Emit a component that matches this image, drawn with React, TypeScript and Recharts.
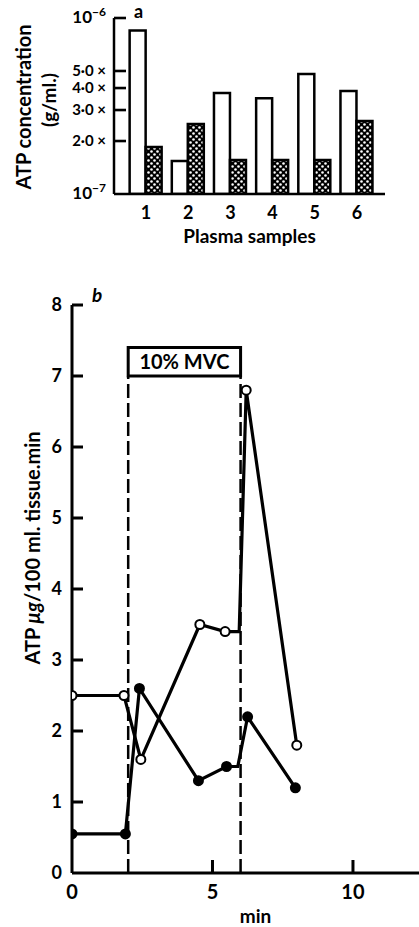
import React from "react";
import {
	BarChart,
	Bar,
	XAxis,
	YAxis,
	LineChart,
	Line,
	ReferenceLine,
	ReferenceArea,
	Label,
} from "recharts";

// panel a: ATP in plasma samples (log scale)
const sampleLabels = ["1", "2", "3", "4", "5", "6"];
const plainValues = [8.5e-7, 1.54e-7, 3.75e-7, 3.5e-7, 4.8e-7, 3.85e-7];
const dottedValues = [1.85e-7, 2.5e-7, 1.56e-7, 1.56e-7, 1.56e-7, 2.6e-7];
const logTicks = [1e-7, 2e-7, 3e-7, 4e-7, 5e-7, 1e-6];

// panel b: ATP release vs time
const openX = [0, 1.85, 2.45, 4.55, 5.45, 5.95, 6.2, 8.0];
const openY = [2.5, 2.5, 1.6, 3.5, 3.4, 3.4, 6.8, 1.8];
const openMarked = [true, true, true, true, true, false, true, true];
const filledX = [0, 1.9, 2.4, 4.5, 5.5, 5.9, 6.25, 7.95];
const filledY = [0.55, 0.55, 2.6, 1.3, 1.5, 1.5, 2.2, 1.2];
const filledMarked = [true, true, true, true, true, false, true, true];
const minTicks = [0, 5, 10];
const rateTicks = [0, 1, 2, 3, 4, 5, 6, 7, 8];
const exercise = { start: 2, end: 6, boxBottom: 7, boxTop: 7.4, label: "10% MVC" };

const barData = sampleLabels.map((name, i) => ({
	name,
	plain: plainValues[i],
	dotted: dottedValues[i],
}));
const openData = openX.map((x, i) => ({ x, y: openY[i], marked: openMarked[i] }));
const filledData = filledX.map((x, i) => ({ x, y: filledY[i], marked: filledMarked[i] }));

const FONT = "Lato, 'DejaVu Sans', sans-serif";
const MIN_MAX = 12.35;
const RATE_MAX = 8;

// tick label plus an inward tick mark, both hung off the axis' own tick position
const LogTick = (props: any) => {
	const { payload } = props;
	const x = Number(props.x);
	const y = Number(props.y);
	const v = payload.value;
	const exp = v >= 1e-6 ? "−6" : v <= 1e-7 ? "−7" : null;
	const mant = Math.round(v / 1e-7);
	return (
		<g>
			{v > 1e-7 ? <rect x={x + 8} y={y - 1.3} width={12} height={2.6} fill="#000" /> : null}
			<text x={x} y={y} dy={5} textAnchor="end" fontFamily={FONT} fontWeight={700} fontSize={15} fill="#000">
				{exp ? (
					<>
						<tspan fontSize={17}>10</tspan>
						<tspan dy={-7} fontSize={12}>{exp}</tspan>
					</>
				) : (
					`${mant}·0 ×`
				)}
			</text>
		</g>
	);
};

const RateTick = (props: any) => {
	const { payload } = props;
	const x = Number(props.x);
	const y = Number(props.y);
	return (
		<g>
			{payload.value > 0 ? <rect x={x + 10} y={y - 1.5} width={11} height={3} fill="#000" /> : null}
			<text x={x} y={y} dy={6} textAnchor="end" fontFamily={FONT} fontWeight={700} fontSize={18} fill="#000">
				{payload.value}
			</text>
		</g>
	);
};

const MinTick = (props: any) => {
	const { payload } = props;
	const x = Number(props.x);
	const y = Number(props.y);
	return (
		<g>
			{payload.value > 0 ? <rect x={x - 1.5} y={y - 25} width={3} height={13} fill="#000" /> : null}
			<text x={x} y={y} dy={14} textAnchor="middle" fontFamily={FONT} fontWeight={700} fontSize={20} fill="#000">
				{payload.value}
			</text>
		</g>
	);
};

const makeDot = (filled: boolean) => (props: any) => {
	const { cx, cy, payload, index } = props;
	if (!payload.marked) return <g key={`d${index}`} />;
	return (
		<circle
			key={`d${index}`}
			cx={cx}
			cy={cy}
			r={4.5}
			fill={filled ? "#000" : "#fff"}
			stroke="#000"
			strokeWidth={2}
		/>
	);
};

const txt = { fontFamily: FONT, fontWeight: 700, fill: "#000" } as const;
const blackLine = { stroke: "#000", strokeWidth: 3 };

export default function App() {
	return (
		<div style={{ position: "absolute", left: 0, top: 0, width: 419, height: 927, background: "#fff" }}>
			<div style={{ position: "absolute", left: 0, top: 0 }}>
				<BarChart
					width={419}
					height={250}
					data={barData}
					margin={{ top: 18, right: 34, left: 0, bottom: 0 }}
					barCategoryGap="11%"
					barGap={0}
				>
					<defs>
						<pattern id="dots" width={6} height={6} patternUnits="userSpaceOnUse">
							<rect width={6} height={6} fill="#000" />
							<circle cx={1.5} cy={1.5} r={1.3} fill="#fff" />
							<circle cx={4.5} cy={4.5} r={1.3} fill="#fff" />
						</pattern>
					</defs>
					<XAxis
						dataKey="name"
						padding={{ left: 11, right: 7 }}
						height={56}
						tickLine={false}
						tickSize={6}
						tickMargin={6}
						interval={0}
						axisLine={{ stroke: "#000", strokeWidth: 2.5 }}
						tick={{ ...txt, fontSize: 18 }}
					>
						<Label value="Plasma samples" position="insideBottom" offset={7} style={{ ...txt, fontSize: 19 }} />
					</XAxis>
					<YAxis
						type="number"
						scale="log"
						domain={[1e-7, 1e-6]}
						allowDataOverflow
						ticks={logTicks}
						interval={0}
						width={114}
						tickLine={false}
						tickSize={0}
						tickMargin={8}
						axisLine={{ stroke: "#000", strokeWidth: 2.5 }}
						tick={<LogTick />}
					>
						<Label
							content={() => (
								<g>
									<text transform="translate(23,107) rotate(-90)" textAnchor="middle" dominantBaseline="central" {...txt} fontSize={20}>
										ATP concentration
									</text>
									<text transform="translate(48,100) rotate(-90)" textAnchor="middle" dominantBaseline="central" {...txt} fontSize={19}>
										(g/ml.)
									</text>
									<text x={134} y={18} {...txt} fontSize={18}>a</text>
								</g>
							)}
						/>
					</YAxis>
					<Bar dataKey="plain" fill="#fff" stroke="#000" strokeWidth={2.5} isAnimationActive={false} />
					<Bar dataKey="dotted" fill="url(#dots)" stroke="#000" strokeWidth={2.5} isAnimationActive={false} />
				</BarChart>
			</div>
			<div style={{ position: "absolute", left: 0, top: 280 }}>
				<LineChart width={419} height={647} margin={{ top: 25, right: 0, left: 0, bottom: 0 }}>
					<XAxis
						type="number"
						dataKey="x"
						domain={[0, MIN_MAX]}
						allowDataOverflow
						ticks={minTicks}
						interval={0}
						height={54}
						tickLine={false}
						tickSize={0}
						tickMargin={12}
						axisLine={blackLine}
						tick={<MinTick />}
					>
						<Label value="min" position="insideBottom" offset={4} dx={10} style={{ ...txt, fontSize: 19 }} />
					</XAxis>
					<YAxis
						type="number"
						domain={[0, RATE_MAX]}
						ticks={rateTicks}
						interval={0}
						width={72}
						tickLine={false}
						tickSize={0}
						tickMargin={10}
						axisLine={blackLine}
						tick={<RateTick />}
					>
						<Label
							content={() => (
								<g>
									<text transform="translate(32,268) rotate(-90)" textAnchor="middle" dominantBaseline="central" {...txt} fontSize={20}>
										ATP <tspan fontStyle="italic">μg</tspan>/100 ml. tissue.min
									</text>
									<text x={92} y={22} {...txt} fontStyle="italic" fontSize={19}>b</text>
								</g>
							)}
						/>
					</YAxis>
					<ReferenceLine
						segment={[{ x: exercise.start, y: 0 }, { x: exercise.start, y: exercise.boxBottom }]}
						stroke="#000"
						strokeWidth={2.5}
						strokeDasharray="14 5"
					/>
					<ReferenceLine
						segment={[{ x: exercise.end, y: 0 }, { x: exercise.end, y: exercise.boxBottom }]}
						stroke="#000"
						strokeWidth={2.5}
						strokeDasharray="14 5"
					/>
					<ReferenceArea
						x1={exercise.start}
						x2={exercise.end}
						y1={exercise.boxBottom}
						y2={exercise.boxTop}
						fill="#fff"
						fillOpacity={1}
						stroke="#000"
						strokeWidth={3}
						label={{ value: exercise.label, position: "center", style: { ...txt, fontSize: 20 } }}
					/>
					<Line
						data={filledData}
						dataKey="y"
						type="linear"
						stroke="#000"
						strokeWidth={3.2}
						dot={makeDot(true)}
						activeDot={false}
						isAnimationActive={false}
					/>
					<Line
						data={openData}
						dataKey="y"
						type="linear"
						stroke="#000"
						strokeWidth={3.2}
						dot={makeDot(false)}
						activeDot={false}
						isAnimationActive={false}
					/>
				</LineChart>
			</div>
		</div>
	);
}
